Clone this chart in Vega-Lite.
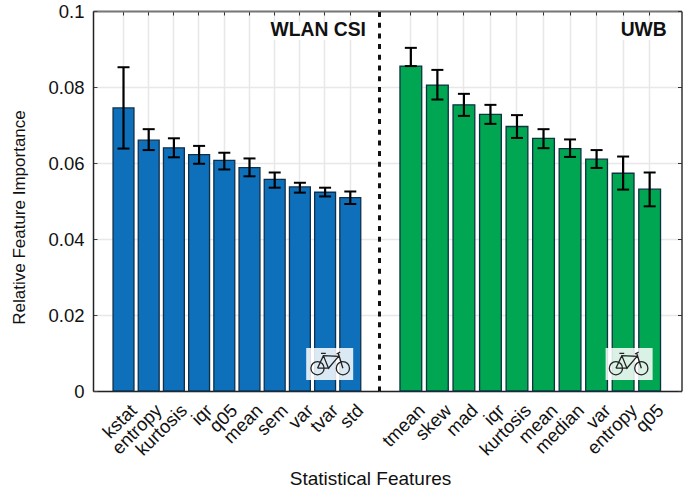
{
"$schema":"https://vega.github.io/schema/vega-lite/v6.json",
"padding":{"left":10,"top":2,"right":10,"bottom":2},
"background":"white",
"spacing":0,
"bounds":"flush",
"config":{"view":{"stroke":null},"font":"Liberation Sans"},
"datasets":{
"wlan":[
{"feature":"kstat","importance":0.0745,"low":0.0638,"high":0.0852},
{"feature":"entropy","importance":0.066,"low":0.0634,"high":0.0689},
{"feature":"kurtosis","importance":0.064,"low":0.0615,"high":0.0665},
{"feature":"iqr","importance":0.0622,"low":0.0598,"high":0.0645},
{"feature":"q05","importance":0.0607,"low":0.0583,"high":0.0627},
{"feature":"mean","importance":0.0588,"low":0.0565,"high":0.0612},
{"feature":"sem","importance":0.0557,"low":0.0535,"high":0.0575},
{"feature":"var","importance":0.0537,"low":0.0522,"high":0.0548},
{"feature":"tvar","importance":0.0523,"low":0.0512,"high":0.0535},
{"feature":"std","importance":0.0509,"low":0.0492,"high":0.0525}],
"uwb":[
{"feature":"tmean","importance":0.0855,"low":0.0855,"high":0.0903},
{"feature":"skew","importance":0.0805,"low":0.0767,"high":0.0845},
{"feature":"mad","importance":0.0753,"low":0.0724,"high":0.0782},
{"feature":"iqr","importance":0.0728,"low":0.0703,"high":0.0753},
{"feature":"kurtosis","importance":0.0696,"low":0.0666,"high":0.0726},
{"feature":"mean","importance":0.0665,"low":0.0639,"high":0.0689},
{"feature":"median","importance":0.0638,"low":0.0616,"high":0.0662},
{"feature":"var","importance":0.061,"low":0.0587,"high":0.0634},
{"feature":"entropy","importance":0.0573,"low":0.053,"high":0.0617},
{"feature":"q05","importance":0.0531,"low":0.0486,"high":0.0575}]
},
"hconcat":[
{"width":286,"height":380,
"data":{"name":"wlan"},
"resolve":{"axis":{"x":"independent","y":"independent"}},
"encoding":{
"x":{"field":"feature","type":"nominal","sort":null,"axis":null,"scale":{"type":"band","domain":["kstat","entropy","kurtosis","iqr","q05","mean","sem","var","tvar","std"],"paddingInner":0.17,"paddingOuter":0.76}},
"y":{"field":"importance","type":"quantitative","axis":null,"scale":{"domain":[0,0.1],"nice":false}}},
"layer":[
{"mark":{"type":"bar","fill":"#0e6fba","stroke":"#10304a","strokeWidth":1.3,"xOffset":0.9},
"encoding":{
"x":{"field":"feature","type":"nominal","sort":null,"title":null,"axis":{"orient":"bottom","bandPosition":0.536,"grid":true,"gridColor":"#e8e8e8","gridWidth":1.5,"ticks":false,"domainColor":"#222","domainWidth":1.5,"labelAngle":-45,"labelAlign":"right","labelBaseline":"middle","labelFontSize":18.5,"labelColor":"#111","labelPadding":16,"labelOffset":11}},
"y":{"field":"importance","type":"quantitative","title":"Relative Feature Importance","axis":{"orient":"left","values":[0,0.02,0.04,0.06,0.08,0.1],"format":"~g","grid":true,"gridColor":"#e8e8e8","gridWidth":1.5,"tickSize":-4,"tickColor":"#444","domainColor":"#222","domainWidth":1.5,"labelFontSize":18.5,"labelColor":"#111","labelPadding":13,"titleFontSize":17,"titleFontWeight":"normal","titleColor":"#111","titlePadding":19.5,"titleY":206,"titleAnchor":"middle"}}}},
{"mark":{"type":"bar","opacity":0},
"encoding":{"x":{"field":"feature","type":"nominal","sort":null,"title":null,"axis":{"orient":"top","bandPosition":0.536,"labels":false,"tickSize":-4,"tickColor":"#333","domainColor":"#777","domainWidth":2}}}},
{"mark":{"type":"rule","stroke":"#000","strokeWidth":2.2,"xOffset":0.9},"encoding":{"y":{"field":"low","type":"quantitative"},"y2":{"field":"high"}}},
{"mark":{"type":"tick","color":"#000","opacity":1,"size":12,"thickness":2,"xOffset":0.9},"encoding":{"y":{"field":"low","type":"quantitative"}}},
{"mark":{"type":"tick","color":"#000","opacity":1,"size":12,"thickness":2,"xOffset":0.9},"encoding":{"y":{"field":"high","type":"quantitative"}}},
{"data":{"values":[{"feature":"tvar","y":0.0924,"y2":0.0971}]},"mark":{"type":"bar","fill":"white","width":100,"xOffset":-6},"encoding":{"y":{"field":"y","type":"quantitative"},"y2":{"field":"y2"}}},
{"data":{"values":[{"feature":"tvar","y":0.0935,"label":"WLAN CSI"}]},"mark":{"type":"text","fontWeight":"bold","fontSize":19.3,"color":"#111","baseline":"alphabetic","dx":-6},"encoding":{"y":{"field":"y","type":"quantitative"},"text":{"field":"label"}}},
{"data":{"values":[{"feature":"tvar","y":0.0029,"y2":0.0113}]},"mark":{"type":"bar","fill":"white","opacity":0.85,"width":47,"xOffset":5.5},"encoding":{"y":{"field":"y","type":"quantitative"},"y2":{"field":"y2"}}},
{"data":{"values":[{"feature":"tvar","y":0.0071}]},"mark":{"type":"point","filled":false,"size":1600,"opacity":1,"stroke":"#222","strokeWidth":1.3,"xOffset":6,"shape":"M-0.305,0.21A0.33,0.33 0 1 1 -0.965,0.21A0.33,0.33 0 1 1 -0.305,0.21ZM0.965,0.21A0.33,0.33 0 1 1 0.305,0.21A0.33,0.33 0 1 1 0.965,0.21ZM-0.635,0.21L-0.34,-0.42L0.42,-0.38L-0.085,0.21L-0.34,-0.42M-0.635,0.21L-0.085,0.21M0.635,0.21L0.4,-0.55M-0.46,-0.53L-0.22,-0.53M0.32,-0.5L0.5,-0.6M-0.13,0.21L-0.04,0.21"},"encoding":{"y":{"field":"y","type":"quantitative"}}}
]},
{"width":302.5,"height":380,
"data":{"name":"uwb"},
"resolve":{"axis":{"x":"independent","y":"independent"}},
"encoding":{
"x":{"field":"feature","type":"nominal","sort":null,"axis":null,"scale":{"type":"band","domain":["tmean","skew","mad","iqr","kurtosis","mean","median","var","entropy","q05"],"paddingInner":0.18,"paddingOuter":0.79}},
"y":{"field":"importance","type":"quantitative","axis":null,"scale":{"domain":[0,0.1],"nice":false}}},
"layer":[
{"mark":{"type":"bar","fill":"#00a651","stroke":"#0c3340","strokeWidth":1.3},
"encoding":{
"x":{"field":"feature","type":"nominal","sort":null,"title":"Statistical Features","axis":{"orient":"bottom","grid":true,"gridColor":"#e8e8e8","gridWidth":1.5,"ticks":false,"domainColor":"#222","domainWidth":1.5,"labelAngle":-45,"labelAlign":"right","labelBaseline":"middle","labelFontSize":18.5,"labelColor":"#111","labelPadding":16,"labelOffset":11,"titleFontSize":19,"titleFontWeight":"normal","titleColor":"#111","titleX":-9,"titleY":78,"titleAlign":"center"}},
"y":{"field":"importance","type":"quantitative","title":null,"axis":{"orient":"right","values":[0,0.02,0.04,0.06,0.08,0.1],"labels":false,"grid":true,"gridColor":"#e8e8e8","gridWidth":1.5,"tickSize":-4,"tickColor":"#333","domainColor":"#333","domainWidth":1.5}}}},
{"mark":{"type":"bar","opacity":0},
"encoding":{
"x":{"field":"feature","type":"nominal","sort":null,"title":null,"axis":{"orient":"top","labels":false,"tickSize":-4,"tickColor":"#333","domainColor":"#777","domainWidth":2}},
"y":{"field":"importance","type":"quantitative","title":null,"axis":{"orient":"left","labels":false,"ticks":false,"grid":false,"domainColor":"#111","domainWidth":3,"domainDash":[5,5.7]}}}},
{"mark":{"type":"rule","stroke":"#000","strokeWidth":2.2},"encoding":{"y":{"field":"low","type":"quantitative"},"y2":{"field":"high"}}},
{"mark":{"type":"tick","color":"#000","opacity":1,"size":12,"thickness":2},"encoding":{"y":{"field":"low","type":"quantitative"}}},
{"mark":{"type":"tick","color":"#000","opacity":1,"size":12,"thickness":2},"encoding":{"y":{"field":"high","type":"quantitative"}}},
{"data":{"values":[{"feature":"q05","y":0.0924,"y2":0.0971}]},"mark":{"type":"bar","fill":"white","width":52,"xOffset":-6},"encoding":{"y":{"field":"y","type":"quantitative"},"y2":{"field":"y2"}}},
{"data":{"values":[{"feature":"q05","y":0.0935,"label":"UWB"}]},"mark":{"type":"text","fontWeight":"bold","fontSize":19.3,"color":"#111","baseline":"alphabetic","dx":-6},"encoding":{"y":{"field":"y","type":"quantitative"},"text":{"field":"label"}}},
{"data":{"values":[{"feature":"entropy","y":0.0029,"y2":0.0113}]},"mark":{"type":"bar","fill":"white","opacity":0.85,"width":47,"xOffset":6},"encoding":{"y":{"field":"y","type":"quantitative"},"y2":{"field":"y2"}}},
{"data":{"values":[{"feature":"entropy","y":0.0071}]},"mark":{"type":"point","filled":false,"size":1600,"opacity":1,"stroke":"#222","strokeWidth":1.3,"xOffset":5.5,"shape":"M-0.305,0.21A0.33,0.33 0 1 1 -0.965,0.21A0.33,0.33 0 1 1 -0.305,0.21ZM0.965,0.21A0.33,0.33 0 1 1 0.305,0.21A0.33,0.33 0 1 1 0.965,0.21ZM-0.635,0.21L-0.34,-0.42L0.42,-0.38L-0.085,0.21L-0.34,-0.42M-0.635,0.21L-0.085,0.21M0.635,0.21L0.4,-0.55M-0.46,-0.53L-0.22,-0.53M0.32,-0.5L0.5,-0.6M-0.13,0.21L-0.04,0.21"},"encoding":{"y":{"field":"y","type":"quantitative"}}}
]}
]
}
